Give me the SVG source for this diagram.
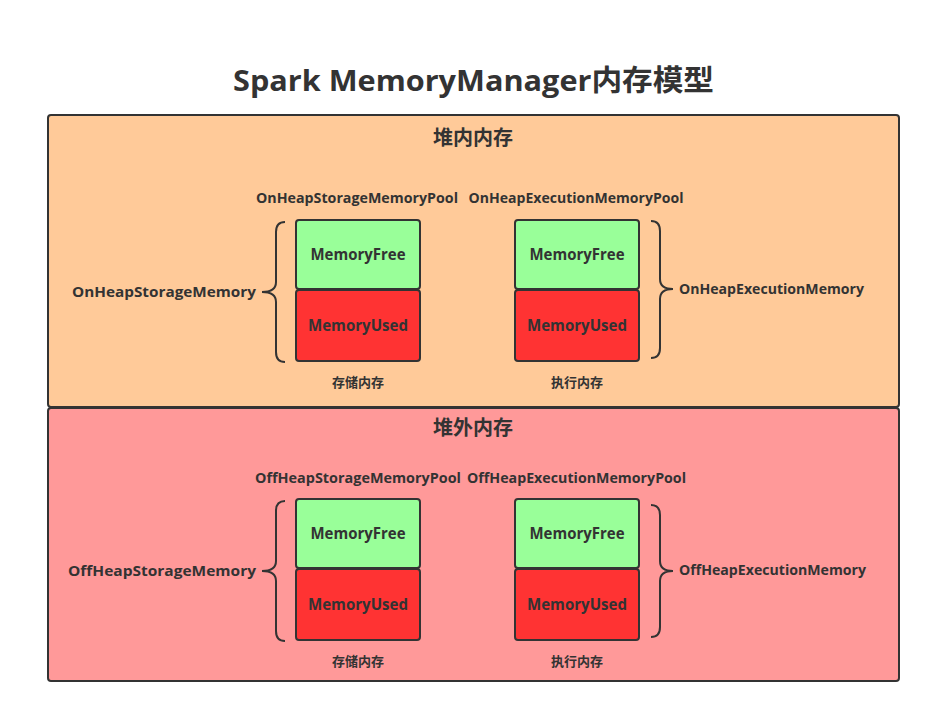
<svg xmlns="http://www.w3.org/2000/svg" width="932" height="712" viewBox="0 0 932 712">
<style>
text{font-family:"Open Sans","Noto Sans CJK SC",sans-serif;font-weight:bold;fill:#333333}
.title{font-size:29px}
.sec{font-size:20px}
.pool{font-size:13.5px}
.lbl{font-size:14.5px}
.box{font-size:16px}
.cap{font-size:13px}
.panel{stroke:#333333;stroke-width:2}
.free{fill:#99FF99;stroke:#333333;stroke-width:2}
.used{fill:#FF3333;stroke:#333333;stroke-width:2}
.brace{fill:none;stroke:#333333;stroke-width:2}
</style>
<rect width="932" height="712" fill="#ffffff"/>
<text class="title" x="473.5" y="91" text-anchor="middle" textLength="481" lengthAdjust="spacingAndGlyphs">Spark MemoryManager内存模型</text>

<g id="onheap">
<rect class="panel" x="48" y="115" width="851" height="292" rx="3" fill="#FFCA99"/>
<text class="sec" x="473" y="145" text-anchor="middle">堆内内存</text>
<text class="pool" x="357" y="203" text-anchor="middle" textLength="202" lengthAdjust="spacingAndGlyphs">OnHeapStorageMemoryPool</text>
<text class="pool" x="576" y="203" text-anchor="middle" textLength="215" lengthAdjust="spacingAndGlyphs">OnHeapExecutionMemoryPool</text>
</g>
<g id="onheap-storage">
<rect class="free" x="296" y="220" width="124" height="69" rx="3"/>
<text class="box" x="358" y="260" text-anchor="middle" textLength="95" lengthAdjust="spacingAndGlyphs">MemoryFree</text>
<rect class="used" x="296" y="290" width="124" height="71" rx="3"/>
<text class="box" x="358" y="331" text-anchor="middle" textLength="100" lengthAdjust="spacingAndGlyphs">MemoryUsed</text>
<text class="cap" x="358" y="387" text-anchor="middle">存储内存</text>
</g>
<g id="onheap-execution">
<rect class="free" x="515" y="220" width="124" height="69" rx="3"/>
<text class="box" x="577" y="260" text-anchor="middle" textLength="95" lengthAdjust="spacingAndGlyphs">MemoryFree</text>
<rect class="used" x="515" y="290" width="124" height="71" rx="3"/>
<text class="box" x="577" y="331" text-anchor="middle" textLength="100" lengthAdjust="spacingAndGlyphs">MemoryUsed</text>
<text class="cap" x="577" y="387" text-anchor="middle">执行内存</text>
</g>
<g id="onheap-storage-label">
<text class="lbl" x="256" y="297" text-anchor="end" textLength="184" lengthAdjust="spacingAndGlyphs">OnHeapStorageMemory</text>
</g>
<g id="onheap-execution-label">
<text class="lbl" x="679" y="294" textLength="185" lengthAdjust="spacingAndGlyphs">OnHeapExecutionMemory</text>
</g>

<g id="offheap">
<rect class="panel" x="48" y="408" width="851" height="273" rx="3" fill="#FF9999"/>
<text class="sec" x="473" y="435" text-anchor="middle">堆外内存</text>
<text class="pool" x="358" y="483" text-anchor="middle" textLength="206" lengthAdjust="spacingAndGlyphs">OffHeapStorageMemoryPool</text>
<text class="pool" x="576.5" y="483" text-anchor="middle" textLength="219" lengthAdjust="spacingAndGlyphs">OffHeapExecutionMemoryPool</text>
</g>
<g id="offheap-storage">
<rect class="free" x="296" y="499" width="124" height="69" rx="3"/>
<text class="box" x="358" y="539" text-anchor="middle" textLength="95" lengthAdjust="spacingAndGlyphs">MemoryFree</text>
<rect class="used" x="296" y="569" width="124" height="71" rx="3"/>
<text class="box" x="358" y="610" text-anchor="middle" textLength="100" lengthAdjust="spacingAndGlyphs">MemoryUsed</text>
<text class="cap" x="358" y="666" text-anchor="middle">存储内存</text>
</g>
<g id="offheap-execution">
<rect class="free" x="515" y="499" width="124" height="69" rx="3"/>
<text class="box" x="577" y="539" text-anchor="middle" textLength="95" lengthAdjust="spacingAndGlyphs">MemoryFree</text>
<rect class="used" x="515" y="569" width="124" height="71" rx="3"/>
<text class="box" x="577" y="610" text-anchor="middle" textLength="100" lengthAdjust="spacingAndGlyphs">MemoryUsed</text>
<text class="cap" x="577" y="666" text-anchor="middle">执行内存</text>
</g>
<g id="offheap-storage-label">
<text class="lbl" x="256" y="576" text-anchor="end" textLength="188" lengthAdjust="spacingAndGlyphs">OffHeapStorageMemory</text>
</g>
<g id="offheap-execution-label">
<text class="lbl" x="679" y="575" textLength="187" lengthAdjust="spacingAndGlyphs">OffHeapExecutionMemory</text>
</g>

<g id="connectors">
<path class="brace" d="M285,222 Q276,222 276,232 L276,282 Q276,292 262,292 Q276,292 276,302 L276,352 Q276,362 285,362"/>
<path class="brace" d="M651,221 Q660,221 660,231 L660,279 Q660,289 673,289 Q660,289 660,299 L660,348 Q660,358 651,358"/>
<path class="brace" d="M285,501 Q276,501 276,511 L276,561 Q276,571 262,571 Q276,571 276,581 L276,631 Q276,641 285,641"/>
<path class="brace" d="M651,505 Q660,505 660,515 L660,561 Q660,571 673,571 Q660,571 660,581 L660,627 Q660,637 651,637"/>
</g>
</svg>
